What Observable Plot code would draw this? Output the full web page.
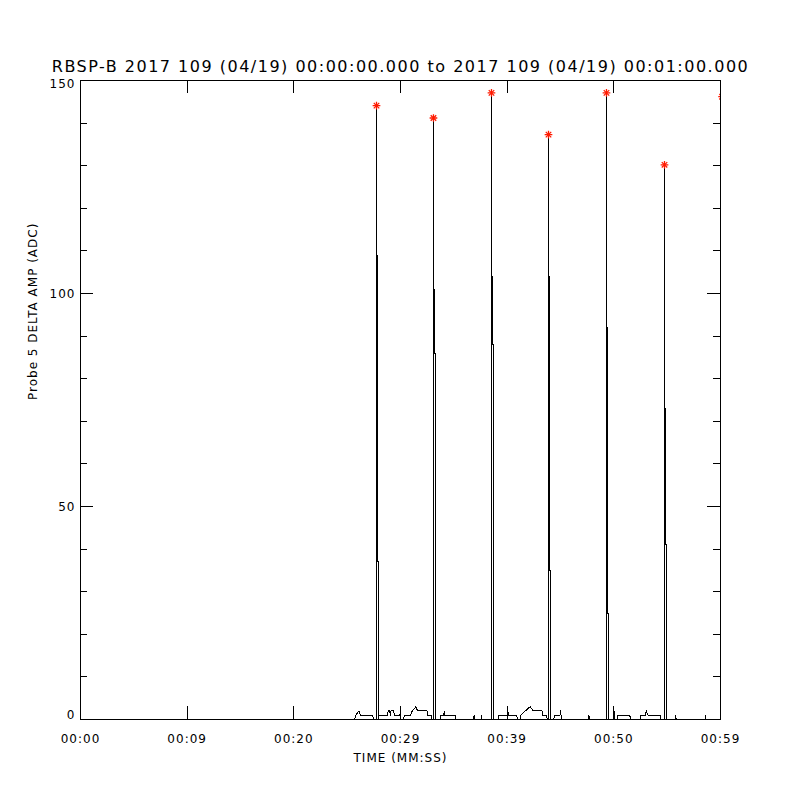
<!DOCTYPE html>
<html><head><meta charset="utf-8">
<script src="https://cdn.jsdelivr.net/npm/d3@7"></script>
<script src="https://cdn.jsdelivr.net/npm/@observablehq/plot@0.6"></script>
<style>body{margin:0;background:#fff}</style>
</head><body><div id="chart"></div>
<script>
// ---- data ----
// baseline and spike vertices (time in seconds, amplitude in ADC)
const time = [0, 25.7, 25.8, 26.1, 26.25, 27.4, 27.45,
  27.745, 27.75, 27.755, 27.84, 27.845, 27.94, 27.945,
  28.0, 28.75, 28.85, 29.0, 29.05, 29.1, 29.37, 29.42, 29.95, 30.0, 30.05, 30.3, 30.35, 30.94, 31.1, 31.45, 31.6, 32.5, 32.55, 32.9, 32.95,
  33.085, 33.09, 33.095, 33.18, 33.185, 33.28, 33.285,
  33.75, 33.8, 34.05, 34.1, 34.15, 35.15, 35.2, 36.85, 36.9, 36.95, 37.55, 37.6, 37.65,
  38.525, 38.53, 38.535, 38.62, 38.625, 38.72, 38.725,
  39.15, 39.2, 40.0, 40.05, 40.1, 40.9, 40.95, 41.2, 41.3, 41.7, 42.15, 42.45, 43.3, 43.35, 43.7, 43.75,
  43.87, 43.875, 43.88, 43.965, 43.97, 44.065, 44.07,
  44.35, 44.45, 44.95, 45.0, 45.05, 45.1, 45.15, 47.6, 47.66, 47.72,
  49.305, 49.31, 49.315, 49.4, 49.405, 49.5, 49.505,
  49.95, 50.0, 50.05, 50.3, 50.35, 51.5, 51.56, 52.45, 52.55, 52.95, 53.05, 53.2, 54.35, 54.4,
  54.745, 54.75, 54.755, 54.84, 54.845, 54.94, 54.945,
  55.75, 55.8, 55.85, 58.55, 58.6, 58.65, 60];
const amp = [0, 0, 1, 2, 1, 1, 0,
  0, 144, 109, 109, 37, 37, 0,
  1, 1, 2, 2, 1, 2, 2, 1, 1, 3, 0, 0, 1, 1, 2, 3, 2, 2, 1, 1, 0,
  0, 141, 101, 101, 86, 86, 0,
  0, 1, 1, 2, 1, 1, 0, 0, 1, 0, 0, 1, 0,
  0, 147, 104, 104, 88, 88, 0,
  0, 1, 1, 3, 1, 1, 0, 0, 1, 2, 3, 2, 2, 1, 1, 0,
  0, 137, 104, 104, 35, 35, 0,
  0, 1, 1, 2, 1, 1, 0, 0, 1, 0,
  0, 147, 92, 92, 25, 25, 0,
  0, 3, 0, 0, 1, 1, 0, 0, 1, 1, 2, 1, 1, 0,
  0, 130, 73, 73, 41, 41, 0,
  0, 1, 0, 0, 1, 0, 0];
const peakTime = [27.75, 33.09, 38.53, 43.875, 49.31, 54.75, 60.15];
const peakAmp = [144.1, 141.2, 147.1, 137.3, 147.1, 130.2, 146.2];
const xTicks = [0, 10, 20, 30, 40, 50, 60];
const xTickLabels = ["00:00", "00:09", "00:20", "00:29", "00:39", "00:50", "00:59"];
const yMajor = [0, 50, 100, 150];
const yMinor = [10, 20, 30, 40, 60, 70, 80, 90, 110, 120, 130, 140];
const title = "RBSP-B 2017 109 (04/19) 00:00:00.000 to 2017 109 (04/19) 00:01:00.000";
const xLabel = "TIME (MM:SS)";
const yLabel = "Probe 5 DELTA AMP (ADC)";

// ---- chart ----
const W = 800, H = 800, mL = 80, mR = 80, mT = 80, mB = 81;
const fw = W - mL - mR, fh = H - mT - mB;
const series = time.map((t, i) => ({t, v: amp[i]}));
const peaks = peakTime.map((t, i) => ({t, v: peakAmp[i]}));
const crisp = {shapeRendering: "crispEdges"};
const tk = {stroke: "black", strokeWidth: 1, ...crisp};
const ink = "#000";

const chart = Plot.plot({
  width: W, height: H, marginLeft: mL, marginRight: mR, marginTop: mT, marginBottom: mB,
  x: {domain: [0, 60], axis: null},
  y: {domain: [0, 150], axis: null},
  style: {fontFamily: "DejaVu Sans, sans-serif", background: "white", color: "black"},
  marks: [
    Plot.line(series, {x: "t", y: "v", stroke: ink, strokeWidth: 1, clip: true, ...crisp}),
    Plot.frame({stroke: ink, strokeWidth: 1, ...crisp}),
    // x ticks (bottom + top, inward)
    Plot.tickX(xTicks, {x: d => d, insetTop: fh - 13, ...tk}),
    Plot.tickX(xTicks, {x: d => d, insetBottom: fh - 13, ...tk}),
    // y ticks (left + right, inward)
    Plot.tickY(yMajor, {y: d => d, insetRight: fw - 13, ...tk}),
    Plot.tickY(yMajor, {y: d => d, insetLeft: fw - 13, ...tk}),
    Plot.tickY(yMinor, {y: d => d, insetRight: fw - 7, ...tk}),
    Plot.tickY(yMinor, {y: d => d, insetLeft: fw - 7, ...tk}),
    // peak markers (8-armed asterisk)
    Plot.dot(peaks, {x: "t", y: "v", symbol: "plus", r: 2.6, stroke: "#ff1a00", strokeWidth: 1.3, clip: true}),
    Plot.dot(peaks, {x: "t", y: "v", symbol: "times", r: 2.6, stroke: "#ff1a00", strokeWidth: 1.3, clip: true}),
    // tick labels
    Plot.text(xTicks, {x: d => d, text: (d, i) => xTickLabels[i], frameAnchor: "bottom", dy: 19.5,
      fontSize: 12, lineAnchor: "middle", fill: ink}),
    Plot.text(yMajor.filter(d => d === 0), {y: d => d, text: d => String(d), frameAnchor: "left", dx: -5, dy: -4,
      textAnchor: "end", fontSize: 12, fill: ink}),
    Plot.text(yMajor.filter(d => d > 0 && d < 150), {y: d => d, text: d => String(d), frameAnchor: "left", dx: -5, dy: 1,
      textAnchor: "end", fontSize: 12, fill: ink}),
    Plot.text(yMajor.filter(d => d === 150), {y: d => d, text: d => String(d), frameAnchor: "left", dx: -5, dy: 4,
      textAnchor: "end", fontSize: 12, fill: ink}),
    // titles
    Plot.text([title], {text: d => d, frameAnchor: "top", dy: -14, fontSize: 16, fill: ink, lineAnchor: "middle"}),
    Plot.text([xLabel], {text: d => d, frameAnchor: "bottom", dy: 39, fontSize: 12, fill: ink, lineAnchor: "middle"}),
    Plot.text([yLabel], {text: d => d, frameAnchor: "left", dx: -47, rotate: -90, fontSize: 12, fill: ink,
      lineAnchor: "middle"})
  ]
});
document.getElementById("chart").appendChild(chart);
d3.select(chart).selectAll("text").each(function () {
  const s = this.textContent;
  this.setAttribute("letter-spacing", s === title ? "1.5" : "1");
  this.style.letterSpacing = s === title ? "1.5px" : "1px";
});
</script>
</body></html>
